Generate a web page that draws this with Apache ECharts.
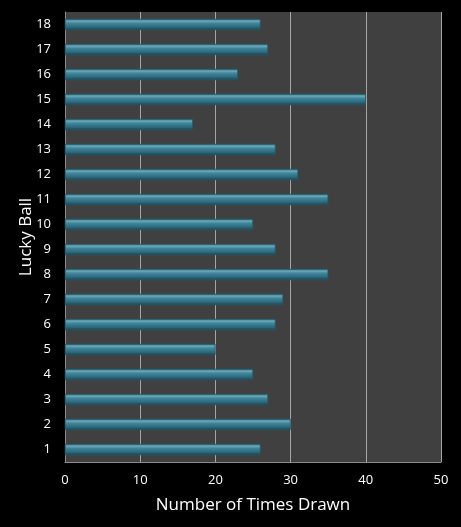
<!DOCTYPE html>
<html>
<head>
<meta charset="utf-8">
<script src="https://cdn.jsdelivr.net/npm/echarts@6/dist/echarts.min.js"></script>
<style>
html,body{margin:0;padding:0;background:#000;}
#main{width:461px;height:527px;}
</style>
</head>
<body>
<div id="main"></div>
<script>
var balls = ['1','2','3','4','5','6','7','8','9','10','11','12','13','14','15','16','17','18'];
var timesDrawn = [26, 30, 27, 25, 20, 28, 29, 35, 28, 25, 35, 31, 28, 17, 40, 23, 27, 26];
var xTicks = [0, 10, 20, 30, 40, 50];

var myChart = echarts.init(document.getElementById('main'));

var barColor = new echarts.graphic.LinearGradient(0, 0, 0, 1, [
    {offset: 0, color: '#3a7a8c'},
    {offset: 0.2, color: '#6aa8b9'},
    {offset: 0.38, color: '#41869a'},
    {offset: 0.75, color: '#2c687b'},
    {offset: 1, color: '#1a4150'}
]);

var option = {
    backgroundColor: '#000',
    textStyle: {
        fontFamily: 'Open Sans'
    },
    grid: {
        left: 65,
        right: 20,
        top: 12,
        bottom: 65,
        show: true,
        backgroundColor: '#404040',
        borderWidth: 0
    },
    xAxis: {
        type: 'value',
        min: xTicks[0],
        max: xTicks[xTicks.length - 1],
        interval: 10,
        name: 'Number of Times Drawn',
        nameLocation: 'middle',
        nameGap: 35,
        nameMoveOverlap: false,
        nameTextStyle: {
            color: '#fff',
            fontSize: 17
        },
        axisLine: {
            show: true,
            lineStyle: {color: '#8c8c8c'}
        },
        axisTick: {show: false},
        axisLabel: {
            color: '#fff',
            fontSize: 13,
            margin: 12
        },
        splitLine: {
            show: true,
            lineStyle: {color: '#a6a6a6', width: 1}
        }
    },
    yAxis: {
        type: 'category',
        data: balls,
        name: 'Lucky Ball',
        nameLocation: 'middle',
        nameGap: 30,
        nameMoveOverlap: false,
        nameTextStyle: {
            color: '#fff',
            fontSize: 17
        },
        axisLine: {
            show: true,
            lineStyle: {color: '#8c8c8c'}
        },
        axisTick: {show: false},
        axisLabel: {
            color: '#fff',
            fontSize: 13,
            margin: 14
        }
    },
    series: [
        {
            name: 'Times Drawn',
            type: 'bar',
            data: timesDrawn,
            barWidth: 11,
            itemStyle: {
                color: barColor,
                borderColor: '#24586a',
                borderWidth: 0.5
            }
        }
    ]
};

myChart.setOption(option);
</script>
</body>
</html>
